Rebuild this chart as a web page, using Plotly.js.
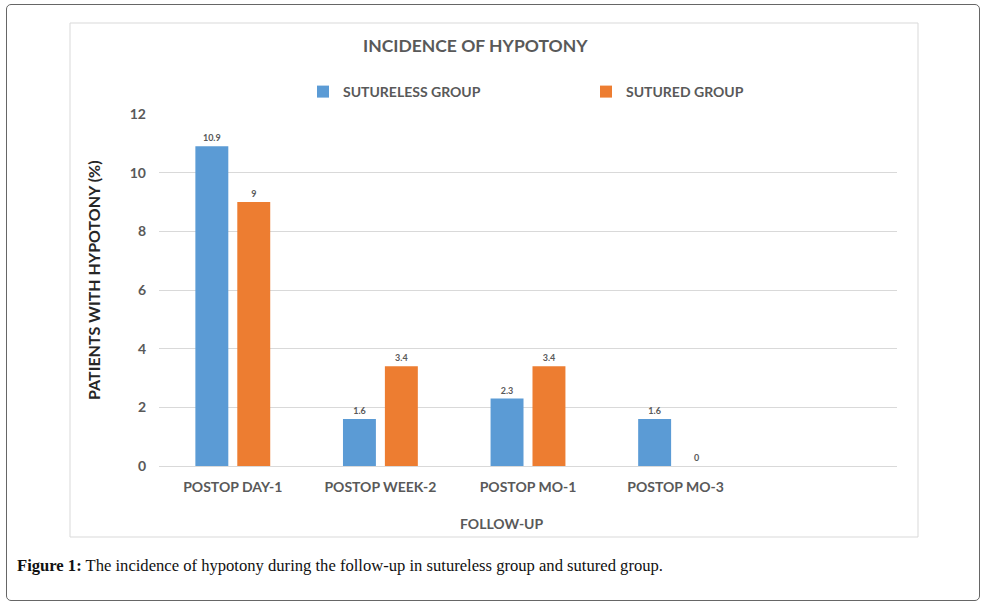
<!DOCTYPE html>
<html>
<head>
<meta charset="utf-8">
<script src="https://cdn.plot.ly/plotly-3.0.1.min.js"></script>
<style>
  html, body { margin: 0; padding: 0; background: #fff; }
  #chart { width: 993px; height: 607px; position: relative; }
  #frame { position: absolute; left: 6px; top: 4px; width: 974px; height: 597px;
           border: 1.5px solid #666; border-radius: 5px; pointer-events: none; box-sizing: border-box; }
</style>
</head>
<body>
<div id="chart"></div>
<div id="frame"></div>
<script>
const categories = ["POSTOP DAY-1", "POSTOP WEEK-2", "POSTOP MO-1", "POSTOP MO-3"];
const sutureless = [10.9, 1.6, 2.3, 1.6];
const sutured = [9, 3.4, 3.4, 0];
const seriesNames = ["SUTURELESS GROUP", "SUTURED GROUP"];
const yTicks = [0, 2, 4, 6, 8, 10, 12];

const W = 993, H = 607;
const L = 159, R = 897, T = 114, B = 466;
const px = x => (x - L) / (R - L);
const py = y => (B - y) / (B - T);

const FONT = "Lato, 'Open Sans', sans-serif";
const GRAY = "#595959";

const labelFont = { family: FONT, size: 9, color: GRAY, weight: 700 };

const traces = [
  { type: "bar", name: seriesNames[0], x: categories, y: sutureless,
    marker: { color: "#5B9BD5" }, text: sutureless.map(String), textposition: "outside",
    textfont: labelFont, cliponaxis: false, hoverinfo: "skip" },
  { type: "bar", name: seriesNames[1], x: categories, y: sutured,
    marker: { color: "#ED7D31" }, text: sutured.map(String), textposition: "outside",
    textfont: labelFont, cliponaxis: false, hoverinfo: "skip" }
];

const layout = {
  width: W, height: H,
  margin: { l: L, r: W - R, t: T, b: H - B, pad: 0 },
  paper_bgcolor: "#fff", plot_bgcolor: "#fff",
  barmode: "group", bargap: 0.432, bargroupgap: 0.214,
  showlegend: true,
  legend: { orientation: "h", x: px(303) , xanchor: "left", y: py(92), yanchor: "middle",
            entrywidth: 238, entrywidthmode: "pixels",
            font: { family: FONT, size: 14, color: GRAY, weight: 700 }, bgcolor: "rgba(0,0,0,0)" },
  xaxis: { type: "category", range: [-0.5, 4.5], showgrid: false, zeroline: false,
           showline: true, linecolor: "#d9d9d9", linewidth: 1, ticks: "",
           tickfont: { family: FONT, size: 14, color: GRAY, weight: 700 }, ticklabelstandoff: 8,
           fixedrange: true },
  yaxis: { range: [0, 12], tickvals: yTicks, showgrid: true, gridcolor: "#d9d9d9", gridwidth: 1,
           zeroline: false, showline: false, ticks: "",
           tickfont: { family: FONT, size: 14, color: GRAY, weight: 700 }, ticklabelstandoff: 12,
           fixedrange: true },
  shapes: [
    { type: "rect", xref: "paper", yref: "paper", x0: px(70), x1: px(918), y0: py(537), y1: py(23),
      line: { color: "#d9d9d9", width: 1 }, fillcolor: "rgba(0,0,0,0)", layer: "below" }
  ],
  annotations: [
    { text: "INCIDENCE OF HYPOTONY", xref: "paper", yref: "paper", x: px(475), y: py(45),
      xanchor: "center", yanchor: "middle", showarrow: false,
      font: { family: FONT, size: 17.5, color: GRAY, weight: 700 } },
    { text: "FOLLOW-UP", xref: "paper", yref: "paper", x: px(502), y: py(523),
      xanchor: "center", yanchor: "middle", showarrow: false,
      font: { family: FONT, size: 14, color: GRAY, weight: 700 } },
    { text: "PATIENTS WITH HYPOTONY (%)", xref: "paper", yref: "paper", x: px(93), y: py(280),
      xanchor: "center", yanchor: "middle", showarrow: false, textangle: -90,
      font: { family: FONT, size: 16, color: "#262626", weight: 700 } },
    { text: "<b>Figure 1:</b> The incidence of hypotony during the follow-up in sutureless group and sutured group.",
      xref: "paper", yref: "paper", x: px(15), y: py(565), xanchor: "left", yanchor: "middle",
      showarrow: false, font: { family: "'Liberation Serif', 'DejaVu Serif', serif", size: 16.6, color: "#111" } }
  ]
};

Plotly.newPlot("chart", traces, layout, { displayModeBar: false, staticPlot: true });
</script>
</body>
</html>
